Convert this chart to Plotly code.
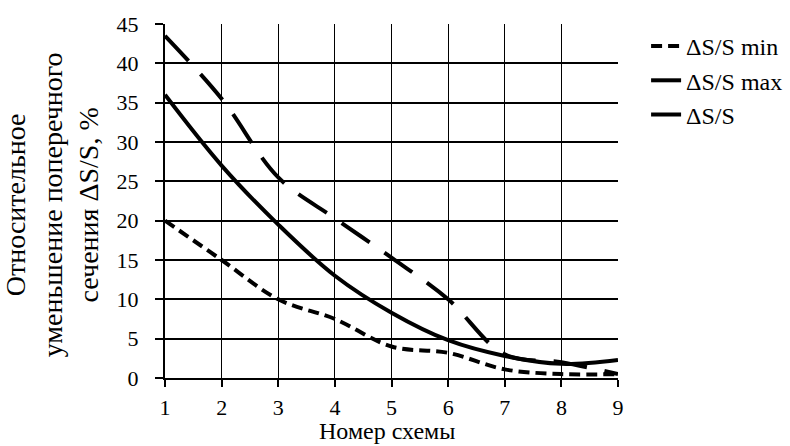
import plotly.graph_objects as go

x = [1, 2, 3, 4, 5, 6, 7, 8, 9]
s_min = [20, 15, 10, 7.5, 4, 3.2, 1.1, 0.5, 0.5]
s_max = [43.5, 35.5, 25.5, 20.3, 15.3, 10, 3, 2, 0.5]
s_mid = [36, 27, 19.5, 13, 8.3, 4.8, 2.8, 1.8, 2.3]

names = ["ΔS/S min", "ΔS/S max", "ΔS/S"]
xticks = [1, 2, 3, 4, 5, 6, 7, 8, 9]
yticks = [0, 5, 10, 15, 20, 25, 30, 35, 40, 45]
x_title = "Номер схемы"
y_title = "Относительное<br>уменьшение поперечного<br>сечения ΔS/S, %"

font = "Liberation Serif, Times New Roman, serif"

fig = go.Figure()
fig.add_trace(go.Scatter(x=x, y=s_min, name=names[0], mode="lines", line_shape="spline",
                         legendgroup="a",
                         line=dict(color="black", width=4, dash="11px,6px")))
fig.add_trace(go.Scatter(x=x, y=s_max, name=names[1], mode="lines", line_shape="spline",
                         legendgroup="b",
                         line=dict(color="black", width=4, dash="34px,18px")))
fig.add_trace(go.Scatter(x=x, y=s_mid, name=names[2], mode="lines", line_shape="spline",
                         legendgroup="c",
                         line=dict(color="black", width=4)))

fig.update_layout(
    width=790, height=446,
    margin=dict(l=165, r=172, t=24, b=68, autoexpand=False),
    paper_bgcolor="white", plot_bgcolor="white",
    font=dict(family=font, size=21, color="black"),
    showlegend=True,
    legend=dict(x=1.062, y=1.0, xanchor="left", yanchor="top",
                font=dict(family=font, size=24, color="black"),
                tracegroupgap=0, bgcolor="rgba(0,0,0,0)"),
    annotations=[
        dict(text=x_title, xref="paper", yref="paper", x=0.49, y=-0.192,
             xanchor="center", yanchor="bottom", showarrow=False,
             font=dict(family=font, size=24, color="black")),
        dict(text=y_title, xref="paper", yref="paper", x=-0.25, y=0.49,
             xanchor="center", yanchor="middle", showarrow=False, textangle=-90,
             font=dict(family=font, size=28, color="black")),
    ],
)
fig.update_xaxes(range=[1, 9], tickvals=xticks, showgrid=True, gridcolor="black", gridwidth=1.3,
                 showline=True, linecolor="black", linewidth=2, ticks="outside", ticklen=7,
                 tickwidth=2, tickcolor="black", zeroline=False, automargin=False,
                 ticklabelstandoff=2, tickfont=dict(family=font, size=22, color="black"))
fig.update_yaxes(range=[0, 45], tickvals=yticks, showgrid=True, gridcolor="black", gridwidth=1.5,
                 showline=True, linecolor="black", linewidth=2, ticks="outside", ticklen=8,
                 tickwidth=1.5, tickcolor="black", zeroline=False, automargin=False,
                 ticklabelstandoff=12, tickfont=dict(family=font, size=22, color="black"))

fig.write_html("out.html", config={"displayModeBar": False},
               post_script="document.body.style.margin='0';")
